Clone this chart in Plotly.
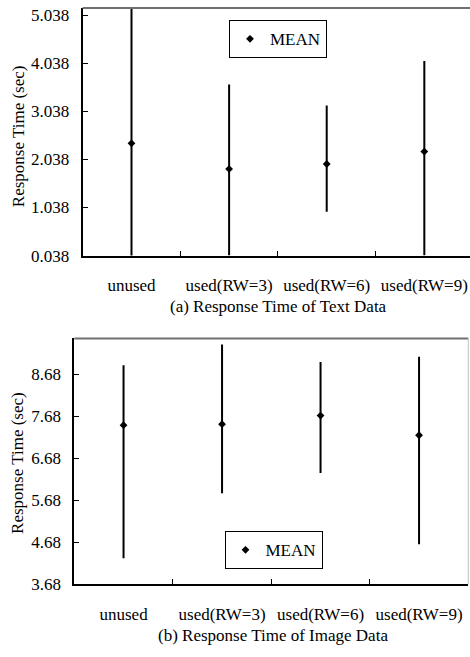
import plotly.graph_objects as go

categories = ["unused", "used(RW=3)", "used(RW=6)", "used(RW=9)"]

# (a) Text data: mean, upper and lower ends of the range bar (sec)
text_mean = [2.371, 1.840, 1.942, 2.201]
text_high = [5.40, 3.595, 3.160, 4.085]
text_low = [0.000, 0.038, 0.948, 0.038]

# (b) Image data
image_mean = [7.472, 7.495, 7.700, 7.231]
image_high = [8.897, 9.388, 8.974, 9.100]
image_low = [4.302, 5.853, 6.334, 4.638]

text_ticks = [0.038, 1.038, 2.038, 3.038, 4.038, 5.038]
image_ticks = [3.68, 4.68, 5.68, 6.68, 7.68, 8.68]

FONT = "Liberation Serif"
W, H = 470, 657


def px_x(v):
    return v / W


def px_y(v):
    return (H - v) / H


fig = go.Figure()

fig.add_trace(go.Scatter(
    x=categories, y=text_mean, mode="markers", name="MEAN",
    marker=dict(symbol="diamond", size=6, color="black"),
    error_y=dict(type="data", symmetric=False,
                 array=[h - m for h, m in zip(text_high, text_mean)],
                 arrayminus=[m - l for m, l in zip(text_mean, text_low)],
                 color="black", thickness=2, width=0),
    xaxis="x", yaxis="y", legend="legend", showlegend=True,
))

fig.add_trace(go.Scatter(
    x=categories, y=image_mean, mode="markers", name="MEAN",
    marker=dict(symbol="diamond", size=6, color="black"),
    error_y=dict(type="data", symmetric=False,
                 array=[h - m for h, m in zip(image_high, image_mean)],
                 arrayminus=[m - l for m, l in zip(image_mean, image_low)],
                 color="black", thickness=2, width=0),
    xaxis="x2", yaxis="y2", legend="legend2", showlegend=True,
))

xcommon = dict(type="category", tickson="boundaries", ticks="inside", ticklen=5,
               tickcolor="black", tickwidth=1, showline=True, linecolor="black",
               linewidth=2, showgrid=False, zeroline=False,
               tickfont=dict(family=FONT, size=17, color="black"),
               ticklabelstandoff=13)
ycommon = dict(ticks="inside", ticklen=5, tickcolor="black", tickwidth=1,
               showline=True, linecolor="black", linewidth=2, showgrid=False,
               zeroline=False, tickfont=dict(family=FONT, size=17, color="black"),
               ticklabelstandoff=8)

legcommon = dict(xanchor="center", yanchor="middle", bordercolor="black",
                 borderwidth=1, bgcolor="white", tracegroupgap=0,
                 font=dict(family=FONT, size=17, color="black"))

fig.update_layout(
    width=W, height=H, autosize=False, showlegend=True,
    margin=dict(l=0, r=0, t=0, b=0),
    paper_bgcolor="white", plot_bgcolor="white",
    font=dict(family=FONT, size=17, color="black"),
    xaxis=dict(xcommon, domain=[px_x(82.7), 1], range=[-0.5, 3.468], anchor="y"),
    yaxis=dict(ycommon, domain=[px_y(258.3), px_y(6)], range=[0.038, 5.187],
               tickvals=text_ticks, tickformat=".3f", anchor="x"),
    xaxis2=dict(xcommon, domain=[px_x(74.3), px_x(468.3)], range=[-0.5, 3.5], anchor="y2"),
    yaxis2=dict(ycommon, domain=[px_y(593.3), px_y(342.7)], range=[3.68, 9.535],
                tickvals=image_ticks, tickformat=".2f", anchor="x2"),
    legend=dict(legcommon, x=px_x(278), y=px_y(38)),
    legend2=dict(legcommon, x=px_x(273.5), y=px_y(558.5)),
    shapes=[
        dict(type="line", xref="x domain", yref="y domain", x0=0, x1=1, y0=1, y1=1,
             line=dict(color="#707070", width=2)),
        dict(type="line", xref="x2 domain", yref="y2 domain", x0=0, x1=1, y0=1, y1=1,
             line=dict(color="#707070", width=2)),
        dict(type="line", xref="x2 domain", yref="y2 domain", x0=1, x1=1, y0=0, y1=1,
             line=dict(color="#c0c0c0", width=1)),
    ],
    annotations=[
        dict(text="(a) Response Time of Text Data", xref="paper", yref="paper",
             x=px_x(278), y=px_y(310), xanchor="center", yanchor="middle",
             showarrow=False, font=dict(family=FONT, size=17, color="black")),
        dict(text="(b) Response Time of Image Data", xref="paper", yref="paper",
             x=px_x(272.5), y=px_y(645), xanchor="center", yanchor="middle",
             showarrow=False, font=dict(family=FONT, size=17, color="black")),
        dict(text="Response Time (sec)", xref="paper", yref="paper", textangle=-90,
             x=px_x(18), y=px_y(136.7), xanchor="center", yanchor="middle",
             showarrow=False, font=dict(family=FONT, size=17, color="black")),
        dict(text="Response Time (sec)", xref="paper", yref="paper", textangle=-90,
             x=px_x(18), y=px_y(469.5), xanchor="center", yanchor="middle",
             showarrow=False, font=dict(family=FONT, size=17, color="black")),
    ],
)

fig.write_html("out.html")
